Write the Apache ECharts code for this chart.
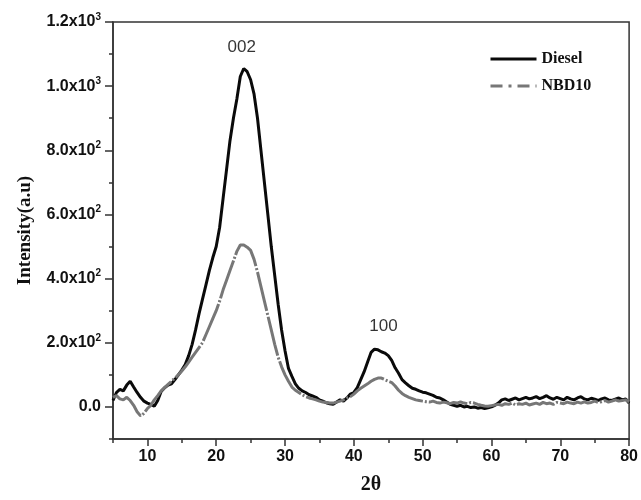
<!DOCTYPE html>
<html>
<head>
<meta charset="utf-8">
<script src="https://cdn.jsdelivr.net/npm/echarts@6/dist/echarts.min.js"></script>
<style>
  html, body { margin: 0; padding: 0; background: #fff; }
  #chart { width: 641px; height: 500px; }
</style>
</head>
<body>
<div id="chart"></div>
<script>
// 2theta angles (deg)
var angles = [
    5, 5.5, 6, 6.5, 7, 7.5, 8, 8.5, 9, 9.5, 10, 10.5, 11, 11.5, 12, 12.5, 13, 13.5, 14, 14.5,
    15, 15.5, 16, 16.5, 17, 17.5, 18, 18.5, 19, 19.5, 20, 20.5, 21, 21.5, 22, 22.5, 23, 23.5, 24, 24.5,
    25, 25.5, 26, 26.5, 27, 27.5, 28, 28.5, 29, 29.5, 30, 30.5, 31, 31.5, 32, 32.5, 33, 33.5, 34, 34.5,
    35, 35.5, 36, 36.5, 37, 37.5, 38, 38.5, 39, 39.5, 40, 40.5, 41, 41.5, 42, 42.5, 43, 43.5, 44, 44.5,
    45, 45.5, 46, 46.5, 47, 47.5, 48, 48.5, 49, 49.5, 50, 50.5, 51, 51.5, 52, 52.5, 53, 53.5, 54, 54.5,
    55, 55.5, 56, 56.5, 57, 57.5, 58, 58.5, 59, 59.5, 60, 60.5, 61, 61.5, 62, 62.5, 63, 63.5, 64, 64.5,
    65, 65.5, 66, 66.5, 67, 67.5, 68, 68.5, 69, 69.5, 70, 70.5, 71, 71.5, 72, 72.5, 73, 73.5, 74, 74.5,
    75, 75.5, 76, 76.5, 77, 77.5, 78, 78.5, 79, 79.5, 80
];

var diesel = [
    20, 45, 55, 50, 68, 80, 62, 45, 30, 18, 12, 8, 2, 20, 48, 60, 68, 72, 85, 100,
    115, 132, 160, 195, 240, 290, 335, 380, 425, 465, 500, 560, 650, 740, 830, 900, 960, 1030, 1055, 1045,
    1020, 975, 900, 800, 700, 600, 500, 410, 320, 240, 175, 120, 95, 72, 58, 50, 45, 38, 34, 30,
    22, 18, 13, 10, 8, 15, 22, 18, 28, 40, 45, 60, 85, 110, 140, 170, 180, 178, 172, 168,
    160, 145, 122, 105, 85, 75, 66, 58, 55, 50, 46, 44, 40, 36, 30, 28, 22, 15, 8, 5,
    2, 5, 0, 2, -2, 0, -4, -2, -5, -3, 0, 5, 12, 22, 25, 20, 24, 28, 22, 26,
    30, 25, 28, 32, 26, 30, 35, 28, 24, 30, 26, 22, 30, 25, 22, 28, 32, 25, 22, 27,
    24, 20, 25, 28, 22, 20, 24, 28, 22, 25, 12
];

var nbd10 = [
    30, 35, 25, 22, 30, 20, 5, -15, -28, -20, -5, 5, 22, 35, 50, 60, 70, 80, 90, 100,
    112, 125, 140, 155, 170, 185, 200, 225, 250, 275, 300, 330, 365, 395, 425, 455, 485, 505, 505, 498,
    488, 460, 420, 375, 330, 285, 240, 195, 155, 125, 100, 80, 62, 52, 45, 38, 32, 28, 25, 22,
    18, 15, 14, 12, 12, 15, 18, 22, 28, 32, 40, 50, 58, 65, 72, 80, 86, 90, 90, 85,
    80, 76, 65, 52, 42, 35, 30, 26, 22, 20, 18, 16, 15, 18, 14, 12, 15, 13, 10, 14,
    12, 16, 12, 10, 14, 12, 8, 5, 3, 2, 4, 6, 8, 5, 10, 8, 12, 6, 10, 8,
    12, 6, 9, 12, 8, 14, 10, 12, 8, 14, 12, 10, 15, 12, 10, 15, 12, 16, 12, 14,
    18, 14, 16, 20, 15, 18, 22, 18, 20, 22, 15
];

// peak labels [2theta, intensity, text]
var peakLabels = [[23.7, 1120, '002'], [44.3, 250, '100']];

var yMajor = [0, 200, 400, 600, 800, 1000, 1200];
var yMinor = [-100, 100, 300, 500, 700, 900, 1100];
var xMajor = [10, 20, 30, 40, 50, 60, 70, 80];
var xMinor = [5, 15, 25, 35, 45, 55, 65, 75];
var yTickText = {
    0: ['0.0', ''], 200: ['2.0x10', '2'], 400: ['4.0x10', '2'], 600: ['6.0x10', '2'],
    800: ['8.0x10', '2'], 1000: ['1.0x10', '3'], 1200: ['1.2x10', '3']
};

var pair = function (ys) {
    var out = [];
    for (var i = 0; i < angles.length; i++) out.push([angles[i], ys[i]]);
    return out;
};

var chart = echarts.init(document.getElementById('chart'));
var axisColor = '#333';
var tickFont = { fontFamily: 'Liberation Sans, Arial, sans-serif', fontWeight: 'bold', fontSize: 16, color: '#111' };
var serifFont = 'Liberation Serif, Times New Roman, serif';

var option = {
    animation: false,
    grid: { left: 113, right: 11, top: 22, bottom: 60, show: true, borderColor: axisColor, borderWidth: 1.5 },
    legend: {
        orient: 'vertical',
        left: 484,
        top: 46,
        itemWidth: 46,
        itemHeight: 12,
        itemGap: 11,
        itemStyle: { opacity: 0 },
        lineStyle: { width: 3 },
        textStyle: { fontFamily: serifFont, fontWeight: 'bold', fontSize: 16, color: '#111' },
        data: ['Diesel', { name: 'NBD10', lineStyle: { width: 3, type: [12, 6, 3, 6] } }]
    },
    xAxis: [{
        type: 'value', min: 5, max: 80,
        name: '2θ', nameLocation: 'middle', nameGap: 36,
        nameTextStyle: { fontFamily: serifFont, fontWeight: 'bold', fontSize: 20, color: '#111' },
        axisLine: { onZero: false, lineStyle: { color: axisColor, width: 1.5 } },
        axisTick: { customValues: xMajor, length: 7, lineStyle: { color: axisColor, width: 1.5 } },
        axisLabel: Object.assign({ customValues: xMajor, margin: 10 }, tickFont),
        splitLine: { show: false }
    }, {
        type: 'value', min: 5, max: 80, position: 'bottom',
        axisLine: { show: false, onZero: false },
        axisTick: { customValues: xMinor, length: 4, lineStyle: { color: axisColor, width: 1.5 } },
        axisLabel: { show: false },
        splitLine: { show: false }
    }],
    yAxis: [{
        type: 'value', min: -100, max: 1200,
        name: 'Intensity(a.u)', nameLocation: 'middle', nameGap: 78,
        nameTextStyle: { fontFamily: serifFont, fontWeight: 'bold', fontSize: 19, color: '#111' },
        axisLine: { show: true, onZero: false, lineStyle: { color: axisColor, width: 1.5 } },
        axisTick: { show: true, customValues: yMajor, length: 8, lineStyle: { color: axisColor, width: 1.5 } },
        axisLabel: {
            customValues: yMajor,
            margin: 12,
            formatter: function (v) {
                var t = yTickText[v];
                if (!t) return '';
                return t[1] ? '{b|' + t[0] + '}{s|' + t[1] + '}' : '{b|' + t[0] + '}';
            },
            rich: {
                b: tickFont,
                s: { fontFamily: 'Liberation Sans, Arial, sans-serif', fontWeight: 'bold', fontSize: 10, color: '#111', padding: [0, 0, 10, 0] }
            }
        },
        splitLine: { show: false }
    }, {
        type: 'value', min: -100, max: 1200, position: 'left',
        axisLine: { show: false, onZero: false },
        axisTick: { show: true, customValues: yMinor, length: 4, lineStyle: { color: axisColor, width: 1.5 } },
        axisLabel: { show: false },
        splitLine: { show: false }
    }],
    series: [{
        name: 'Diesel', type: 'line', xAxisIndex: 0, yAxisIndex: 0,
        data: pair(diesel), showSymbol: false, symbol: 'none',
        lineStyle: { color: '#0a0a0a', width: 3 },
        itemStyle: { color: '#0a0a0a' },
        z: 3
    }, {
        name: 'NBD10', type: 'line', xAxisIndex: 0, yAxisIndex: 0,
        data: pair(nbd10), showSymbol: false, symbol: 'none',
        lineStyle: { color: '#777', width: 3, type: [40, 2, 2, 2] },
        itemStyle: { color: '#777' },
        z: 4
    }, {
        name: 'peaks', type: 'scatter', xAxisIndex: 0, yAxisIndex: 0,
        data: peakLabels, symbolSize: 0, silent: true,
        label: {
            show: true, position: 'inside',
            formatter: function (p) { return p.value[2]; },
            fontFamily: 'Liberation Sans, Arial, sans-serif', fontSize: 17, color: '#000'
        },
        labelLayout: { hideOverlap: false }
    }]
};

chart.setOption(option);
</script>
</body>
</html>
